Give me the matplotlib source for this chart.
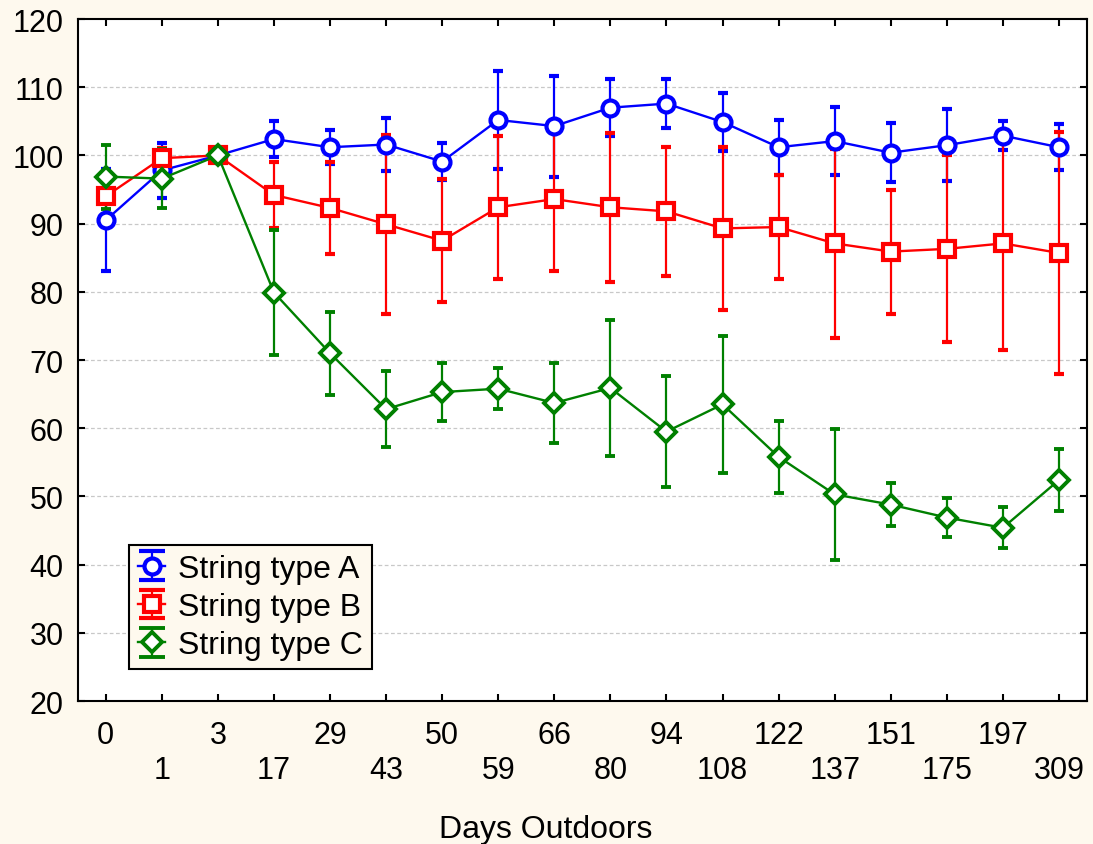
import matplotlib.pyplot as plt
from matplotlib.legend_handler import HandlerErrorbar
from matplotlib.lines import Line2D
from matplotlib.container import ErrorbarContainer
import numpy as np

# Days outdoors (categorical x axis)
days = ['0', '1', '3', '17', '29', '43', '50', '59', '66', '80',
        '94', '108', '122', '137', '151', '175', '197', '309']

# String type A
a_mean = [90.5, 97.8, 100.0, 102.4, 101.2, 101.6, 99.1, 105.2, 104.3, 107.0,
          107.6, 104.9, 101.2, 102.1, 100.4, 101.5, 102.9, 101.2]
a_err = [7.5, 4.0, 0.5, 2.6, 2.5, 3.9, 2.7, 7.2, 7.4, 4.2,
         3.6, 4.2, 4.0, 5.0, 4.3, 5.3, 2.1, 3.4]

# String type B
b_mean = [94.0, 99.6, 100.0, 94.2, 92.3, 89.9, 87.5, 92.4, 93.6, 92.4,
          91.8, 89.3, 89.5, 87.1, 85.9, 86.3, 87.1, 85.7]
b_err = [3.2, 1.5, 0.5, 4.8, 6.7, 13.1, 9.0, 10.5, 10.6, 10.9,
         9.5, 12.0, 7.6, 13.8, 9.1, 13.7, 15.6, 17.8]

# String type C
c_mean = [96.9, 96.6, 100.0, 79.9, 71.0, 62.8, 65.3, 65.8, 63.7, 65.9,
          59.5, 63.5, 55.8, 50.3, 48.8, 46.9, 45.4, 52.4]
c_err = [4.7, 4.3, 0.5, 9.1, 6.1, 5.6, 4.3, 3.0, 5.8, 10.0,
         8.1, 10.0, 5.3, 9.6, 3.1, 2.8, 3.0, 4.6]

plt.rcParams['font.family'] = ['Liberation Sans', 'DejaVu Sans']
bg = '#fef9ee'

fig = plt.figure(figsize=(10.93, 8.45), dpi=100, facecolor=bg)
ax = fig.add_axes([0.0711, 0.1692, 0.9234, 0.8071])
ax.set_facecolor('white')

x = np.arange(len(days))
series = [
    ('String type A', a_mean, a_err, '#0000ff', 'o', 11.5, 3.0),
    ('String type B', b_mean, b_err, '#ff0000', 's', 11.5, 3.0),
    ('String type C', c_mean, c_err, '#008000', 'D', 10, 2.8),
]
for label, m, e, col, mk, ms, mew in series:
    ax.errorbar(x, m, yerr=e, color=col, marker=mk, markersize=ms,
                markeredgewidth=mew, markerfacecolor='white',
                markeredgecolor=col, linewidth=1.7, elinewidth=1.6,
                capsize=3.5, capthick=2, label=label)

ax.set_xlim(-0.5, len(days) - 0.5)
ax.set_ylim(20, 120)
ax.set_yticks(np.arange(20, 121, 10))
ax.set_xticks(x)
ax.set_xticklabels([d if i % 2 == 0 else '\n' + d for i, d in enumerate(days)])

for yv in range(30, 120, 10):
    ax.axhline(yv, color='#c8c8c8', linewidth=0.9, linestyle=(0, (3, 2)), zorder=0)

ax.tick_params(direction='in', top=True, right=True, length=5, width=1.5,
               labelsize=22)
ax.tick_params(axis='x', pad=14)
ax.tick_params(axis='y', pad=10)
for s in ax.spines.values():
    s.set_linewidth(1.5)

ax.set_xlabel('Days Outdoors', fontsize=23)
ax.xaxis.set_label_coords(0.464, -0.166)


# wide caps in the legend, like the original
def wide_caps(handle, orig):
    handle.update_from(orig)
    if isinstance(orig, Line2D) and orig.get_marker() == '_':
        handle.set_markersize(19)


leg = ax.legend(loc='upper left', bbox_to_anchor=(0.051, 0.229), fontsize=23,
                frameon=True, fancybox=False, facecolor=bg, edgecolor='black',
                framealpha=1, handlelength=0.85, handletextpad=0.4,
                borderpad=0.28, labelspacing=0.26, borderaxespad=0,
                handler_map={ErrorbarContainer: HandlerErrorbar(xerr_size=0.45, update_func=wide_caps)})
leg.get_frame().set_linewidth(1.5)

fig.savefig('out.png', dpi=100, facecolor=bg)
